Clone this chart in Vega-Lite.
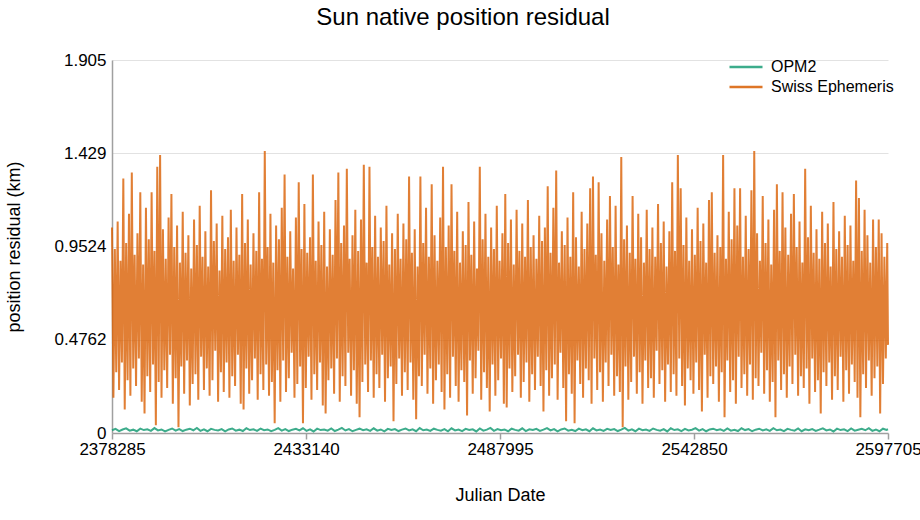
{
  "$schema": "https://vega.github.io/schema/vega-lite/v6.json",
  "width": 776,
  "height": 373,
  "autosize": {"type": "none"},
  "padding": {"left": 112, "top": 60, "right": 32, "bottom": 87},
  "background": "white",
  "title": {
    "text": "Sun native position residual",
    "fontSize": 24,
    "fontWeight": "normal",
    "color": "black",
    "anchor": "middle",
    "frame": "bounds",
    "offset": 21
  },
  "config": {
    "font": "Liberation Sans",
    "view": {"stroke": null}
  },
  "datasets": {
    "swiss": [
      {"d":2378285,"v":1.05},{"d":2378685,"v":0.18},{"d":2379085,"v":0.94},{"d":2379485,"v":0.31},{"d":2379885,"v":1.08},{"d":2380285,"v":0.22},{"d":2380685,"v":0.88},{"d":2381085,"v":0.36},{"d":2381485,"v":1.30},{"d":2381885,"v":0.12},
      {"d":2382285,"v":0.97},{"d":2382685,"v":0.27},{"d":2383085,"v":1.12},{"d":2383485,"v":0.19},{"d":2383885,"v":1.33},{"d":2384285,"v":0.33},{"d":2384685,"v":0.91},{"d":2385085,"v":0.24},{"d":2385485,"v":1.02},{"d":2385885,"v":0.38},
      {"d":2386285,"v":1.23},{"d":2386685,"v":0.16},{"d":2387085,"v":0.86},{"d":2387485,"v":0.10},{"d":2387885,"v":1.15},{"d":2388285,"v":0.29},{"d":2388685,"v":0.99},{"d":2389085,"v":0.21},{"d":2389485,"v":1.23},{"d":2389885,"v":0.35},
      {"d":2390285,"v":0.93},{"d":2390685,"v":0.04},{"d":2391085,"v":1.36},{"d":2391485,"v":0.26},{"d":2391885,"v":1.42},{"d":2392285,"v":0.18},{"d":2392685,"v":1.04},{"d":2393085,"v":0.32},{"d":2393485,"v":0.89},{"d":2393885,"v":0.23},
      {"d":2394285,"v":1.10},{"d":2394685,"v":0.40},{"d":2395085,"v":1.22},{"d":2395485,"v":0.15},{"d":2395885,"v":0.95},{"d":2396285,"v":0.28},{"d":2396685,"v":1.06},{"d":2397085,"v":0.03},{"d":2397485,"v":0.87},{"d":2397885,"v":0.34},
      {"d":2398285,"v":1.13},{"d":2398685,"v":0.20},{"d":2399085,"v":0.92},{"d":2399485,"v":0.37},{"d":2399885,"v":1.01},{"d":2400285,"v":0.14},{"d":2400685,"v":0.84},{"d":2401085,"v":0.25},{"d":2401485,"v":1.09},{"d":2401885,"v":0.30},
      {"d":2402285,"v":0.96},{"d":2402685,"v":0.17},{"d":2403085,"v":1.16},{"d":2403485,"v":0.39},{"d":2403885,"v":0.90},{"d":2404285,"v":0.22},{"d":2404685,"v":1.03},{"d":2405085,"v":0.33},{"d":2405485,"v":0.85},{"d":2405885,"v":0.19},
      {"d":2406285,"v":1.24},{"d":2406685,"v":0.27},{"d":2407085,"v":0.98},{"d":2407485,"v":0.42},{"d":2407885,"v":1.07},{"d":2408285,"v":0.16},{"d":2408685,"v":0.83},{"d":2409085,"v":0.31},{"d":2409485,"v":1.11},{"d":2409885,"v":0.21},
      {"d":2410285,"v":0.94},{"d":2410685,"v":0.36},{"d":2411085,"v":1.00},{"d":2411485,"v":0.18},{"d":2411885,"v":1.14},{"d":2412285,"v":0.29},{"d":2412685,"v":0.88},{"d":2413085,"v":0.24},{"d":2413485,"v":1.05},{"d":2413885,"v":0.40},
      {"d":2414285,"v":0.91},{"d":2414685,"v":0.15},{"d":2415085,"v":1.22},{"d":2415485,"v":0.12},{"d":2415885,"v":0.97},{"d":2416285,"v":0.33},{"d":2416685,"v":1.09},{"d":2417085,"v":0.20},{"d":2417485,"v":0.86},{"d":2417885,"v":0.27},
      {"d":2418285,"v":1.02},{"d":2418685,"v":0.38},{"d":2419085,"v":0.93},{"d":2419485,"v":0.17},{"d":2419885,"v":1.23},{"d":2420285,"v":0.30},{"d":2420685,"v":0.89},{"d":2421085,"v":0.22},{"d":2421485,"v":1.44},{"d":2421885,"v":0.35},
      {"d":2422285,"v":0.95},{"d":2422685,"v":0.19},{"d":2423085,"v":1.12},{"d":2423485,"v":0.26},{"d":2423885,"v":0.87},{"d":2424285,"v":0.05},{"d":2424685,"v":1.06},{"d":2425085,"v":0.32},{"d":2425485,"v":0.99},{"d":2425885,"v":0.16},
      {"d":2426285,"v":1.15},{"d":2426685,"v":0.37},{"d":2427085,"v":1.32},{"d":2427485,"v":0.21},{"d":2427885,"v":0.90},{"d":2428285,"v":0.28},{"d":2428685,"v":1.03},{"d":2429085,"v":0.41},{"d":2429485,"v":0.84},{"d":2429885,"v":0.18},
      {"d":2430285,"v":1.10},{"d":2430685,"v":0.25},{"d":2431085,"v":1.28},{"d":2431485,"v":0.34},{"d":2431885,"v":0.94},{"d":2432285,"v":0.05},{"d":2432685,"v":1.17},{"d":2433085,"v":0.23},{"d":2433485,"v":0.92},{"d":2433885,"v":0.39},
      {"d":2434285,"v":1.00},{"d":2434685,"v":0.17},{"d":2435085,"v":1.32},{"d":2435485,"v":0.30},{"d":2435885,"v":0.88},{"d":2436285,"v":0.22},{"d":2436685,"v":1.08},{"d":2437085,"v":0.36},{"d":2437485,"v":0.96},{"d":2437885,"v":0.14},
      {"d":2438285,"v":1.13},{"d":2438685,"v":0.10},{"d":2439085,"v":0.85},{"d":2439485,"v":0.27},{"d":2439885,"v":1.04},{"d":2440285,"v":0.33},{"d":2440685,"v":0.91},{"d":2441085,"v":0.20},{"d":2441485,"v":1.19},{"d":2441885,"v":0.38},
      {"d":2442285,"v":1.33},{"d":2442685,"v":0.16},{"d":2443085,"v":0.97},{"d":2443485,"v":0.29},{"d":2443885,"v":1.06},{"d":2444285,"v":0.24},{"d":2444685,"v":1.35},{"d":2445085,"v":0.41},{"d":2445485,"v":0.89},{"d":2445885,"v":0.19},
      {"d":2446285,"v":1.01},{"d":2446685,"v":0.32},{"d":2447085,"v":1.14},{"d":2447485,"v":0.15},{"d":2447885,"v":0.93},{"d":2448285,"v":0.08},{"d":2448685,"v":1.09},{"d":2449085,"v":0.26},{"d":2449485,"v":1.37},{"d":2449885,"v":0.35},
      {"d":2450285,"v":0.87},{"d":2450685,"v":0.21},{"d":2451085,"v":1.36},{"d":2451485,"v":0.37},{"d":2451885,"v":0.95},{"d":2452285,"v":0.18},{"d":2452685,"v":1.11},{"d":2453085,"v":0.30},{"d":2453485,"v":0.90},{"d":2453885,"v":0.23},
      {"d":2454285,"v":1.05},{"d":2454685,"v":0.40},{"d":2455085,"v":0.98},{"d":2455485,"v":0.16},{"d":2455885,"v":1.16},{"d":2456285,"v":0.28},{"d":2456685,"v":0.86},{"d":2457085,"v":0.34},{"d":2457485,"v":1.02},{"d":2457885,"v":0.06},
      {"d":2458285,"v":0.94},{"d":2458685,"v":0.25},{"d":2459085,"v":1.12},{"d":2459485,"v":0.38},{"d":2459885,"v":0.89},{"d":2460285,"v":0.19},{"d":2460685,"v":1.07},{"d":2461085,"v":0.31},{"d":2461485,"v":0.99},{"d":2461885,"v":0.22},
      {"d":2462285,"v":1.31},{"d":2462685,"v":0.36},{"d":2463085,"v":0.92},{"d":2463485,"v":0.17},{"d":2463885,"v":1.04},{"d":2464285,"v":0.07},{"d":2464685,"v":0.85},{"d":2465085,"v":0.29},{"d":2465485,"v":1.31},{"d":2465885,"v":0.24},
      {"d":2466285,"v":0.97},{"d":2466685,"v":0.40},{"d":2467085,"v":1.15},{"d":2467485,"v":0.20},{"d":2467885,"v":0.90},{"d":2468285,"v":0.33},{"d":2468685,"v":1.27},{"d":2469085,"v":0.15},{"d":2469485,"v":1.01},{"d":2469885,"v":0.27},
      {"d":2470285,"v":0.88},{"d":2470685,"v":0.35},{"d":2471085,"v":1.10},{"d":2471485,"v":0.21},{"d":2471885,"v":1.36},{"d":2472285,"v":0.12},{"d":2472685,"v":0.95},{"d":2473085,"v":0.30},{"d":2473485,"v":1.06},{"d":2473885,"v":0.18},
      {"d":2474285,"v":1.27},{"d":2474685,"v":0.39},{"d":2475085,"v":0.93},{"d":2475485,"v":0.24},{"d":2475885,"v":1.13},{"d":2476285,"v":0.16},{"d":2476685,"v":0.87},{"d":2477085,"v":0.32},{"d":2477485,"v":1.03},{"d":2477885,"v":0.26},
      {"d":2478285,"v":0.96},{"d":2478685,"v":0.09},{"d":2479085,"v":1.18},{"d":2479485,"v":0.37},{"d":2479885,"v":0.91},{"d":2480285,"v":0.20},{"d":2480685,"v":1.08},{"d":2481085,"v":0.28},{"d":2481485,"v":0.84},{"d":2481885,"v":0.42},
      {"d":2482285,"v":1.36},{"d":2482685,"v":0.17},{"d":2483085,"v":0.99},{"d":2483485,"v":0.31},{"d":2483885,"v":1.12},{"d":2484285,"v":0.23},{"d":2484685,"v":0.90},{"d":2485085,"v":0.11},{"d":2485485,"v":1.05},{"d":2485885,"v":0.35},
      {"d":2486285,"v":0.94},{"d":2486685,"v":0.19},{"d":2487085,"v":1.16},{"d":2487485,"v":0.27},{"d":2487885,"v":0.88},{"d":2488285,"v":0.38},{"d":2488685,"v":1.02},{"d":2489085,"v":0.15},{"d":2489485,"v":1.22},{"d":2489885,"v":0.13},
      {"d":2490285,"v":0.97},{"d":2490685,"v":0.33},{"d":2491085,"v":1.09},{"d":2491485,"v":0.21},{"d":2491885,"v":0.86},{"d":2492285,"v":0.29},{"d":2492685,"v":1.14},{"d":2493085,"v":0.40},{"d":2493485,"v":0.93},{"d":2493885,"v":0.18},
      {"d":2494285,"v":1.07},{"d":2494685,"v":0.26},{"d":2495085,"v":0.90},{"d":2495485,"v":0.36},{"d":2495885,"v":1.19},{"d":2496285,"v":0.16},{"d":2496685,"v":0.95},{"d":2497085,"v":0.30},{"d":2497485,"v":1.01},{"d":2497885,"v":0.22},
      {"d":2498285,"v":0.89},{"d":2498685,"v":0.39},{"d":2499085,"v":1.11},{"d":2499485,"v":0.24},{"d":2499885,"v":0.98},{"d":2500285,"v":0.11},{"d":2500685,"v":1.05},{"d":2501085,"v":0.32},{"d":2501485,"v":1.26},{"d":2501885,"v":0.19},
      {"d":2502285,"v":0.92},{"d":2502685,"v":0.28},{"d":2503085,"v":1.15},{"d":2503485,"v":0.35},{"d":2503885,"v":1.34},{"d":2504285,"v":0.17},{"d":2504685,"v":0.87},{"d":2505085,"v":0.41},{"d":2505485,"v":1.03},{"d":2505885,"v":0.23},
      {"d":2506285,"v":0.96},{"d":2506685,"v":0.06},{"d":2507085,"v":1.10},{"d":2507485,"v":0.30},{"d":2507885,"v":0.90},{"d":2508285,"v":0.20},{"d":2508685,"v":1.23},{"d":2509085,"v":0.05},{"d":2509485,"v":1.00},{"d":2509885,"v":0.37},
      {"d":2510285,"v":0.85},{"d":2510685,"v":0.25},{"d":2511085,"v":1.13},{"d":2511485,"v":0.18},{"d":2511885,"v":0.94},{"d":2512285,"v":0.33},{"d":2512685,"v":1.07},{"d":2513085,"v":0.27},{"d":2513485,"v":1.25},{"d":2513885,"v":0.15},
      {"d":2514285,"v":1.31},{"d":2514685,"v":0.38},{"d":2515085,"v":0.91},{"d":2515485,"v":0.22},{"d":2515885,"v":1.28},{"d":2516285,"v":0.31},{"d":2516685,"v":1.02},{"d":2517085,"v":0.16},{"d":2517485,"v":0.88},{"d":2517885,"v":0.36},
      {"d":2518285,"v":1.09},{"d":2518685,"v":0.24},{"d":2519085,"v":1.21},{"d":2519485,"v":0.40},{"d":2519885,"v":0.95},{"d":2520285,"v":0.19},{"d":2520685,"v":1.16},{"d":2521085,"v":0.29},{"d":2521485,"v":0.86},{"d":2521885,"v":0.21},
      {"d":2522285,"v":1.41},{"d":2522685,"v":0.03},{"d":2523085,"v":0.99},{"d":2523485,"v":0.34},{"d":2523885,"v":1.06},{"d":2524285,"v":0.17},{"d":2524685,"v":0.92},{"d":2525085,"v":0.26},{"d":2525485,"v":1.21},{"d":2525885,"v":0.39},
      {"d":2526285,"v":0.89},{"d":2526685,"v":0.20},{"d":2527085,"v":1.12},{"d":2527485,"v":0.31},{"d":2527885,"v":1.00},{"d":2528285,"v":0.15},{"d":2528685,"v":0.87},{"d":2529085,"v":0.37},{"d":2529485,"v":1.14},{"d":2529885,"v":0.23},
      {"d":2530285,"v":0.94},{"d":2530685,"v":0.28},{"d":2531085,"v":1.05},{"d":2531485,"v":0.18},{"d":2531885,"v":0.90},{"d":2532285,"v":0.42},{"d":2532685,"v":1.17},{"d":2533085,"v":0.25},{"d":2533485,"v":0.97},{"d":2533885,"v":0.32},
      {"d":2534285,"v":1.08},{"d":2534685,"v":0.16},{"d":2535085,"v":0.85},{"d":2535485,"v":0.35},{"d":2535885,"v":1.03},{"d":2536285,"v":0.21},{"d":2536685,"v":1.28},{"d":2537085,"v":0.30},{"d":2537485,"v":0.93},{"d":2537885,"v":0.19},
      {"d":2538285,"v":1.42},{"d":2538685,"v":0.38},{"d":2539085,"v":1.25},{"d":2539485,"v":0.24},{"d":2539885,"v":0.96},{"d":2540285,"v":0.14},{"d":2540685,"v":1.10},{"d":2541085,"v":0.33},{"d":2541485,"v":0.88},{"d":2541885,"v":0.27},
      {"d":2542285,"v":1.04},{"d":2542685,"v":0.20},{"d":2543085,"v":0.91},{"d":2543485,"v":0.36},{"d":2543885,"v":1.15},{"d":2544285,"v":0.22},{"d":2544685,"v":0.98},{"d":2545085,"v":0.11},{"d":2545485,"v":1.07},{"d":2545885,"v":0.40},
      {"d":2546285,"v":0.87},{"d":2546685,"v":0.18},{"d":2547085,"v":1.19},{"d":2547485,"v":0.29},{"d":2547885,"v":1.23},{"d":2548285,"v":0.25},{"d":2548685,"v":0.92},{"d":2549085,"v":0.34},{"d":2549485,"v":1.01},{"d":2549885,"v":0.16},
      {"d":2550285,"v":0.95},{"d":2550685,"v":0.31},{"d":2551085,"v":1.42},{"d":2551485,"v":0.08},{"d":2551885,"v":0.89},{"d":2552285,"v":0.37},{"d":2552685,"v":1.13},{"d":2553085,"v":0.21},{"d":2553485,"v":0.99},{"d":2553885,"v":0.27},
      {"d":2554285,"v":1.25},{"d":2554685,"v":0.15},{"d":2555085,"v":1.06},{"d":2555485,"v":0.39},{"d":2555885,"v":1.25},{"d":2556285,"v":0.23},{"d":2556685,"v":0.90},{"d":2557085,"v":0.30},{"d":2557485,"v":1.11},{"d":2557885,"v":0.19},
      {"d":2558285,"v":0.94},{"d":2558685,"v":0.35},{"d":2559085,"v":1.24},{"d":2559485,"v":0.17},{"d":2559885,"v":1.44},{"d":2560285,"v":0.28},{"d":2560685,"v":1.02},{"d":2561085,"v":0.24},{"d":2561485,"v":0.88},{"d":2561885,"v":0.41},
      {"d":2562285,"v":1.21},{"d":2562685,"v":0.20},{"d":2563085,"v":0.97},{"d":2563485,"v":0.32},{"d":2563885,"v":1.09},{"d":2564285,"v":0.16},{"d":2564685,"v":0.86},{"d":2565085,"v":0.26},{"d":2565485,"v":1.14},{"d":2565885,"v":0.08},
      {"d":2566285,"v":1.27},{"d":2566685,"v":0.37},{"d":2567085,"v":0.93},{"d":2567485,"v":0.22},{"d":2567885,"v":1.23},{"d":2568285,"v":0.30},{"d":2568685,"v":1.05},{"d":2569085,"v":0.18},{"d":2569485,"v":0.91},{"d":2569885,"v":0.34},
      {"d":2570285,"v":1.12},{"d":2570685,"v":0.25},{"d":2571085,"v":1.22},{"d":2571485,"v":0.40},{"d":2571885,"v":0.95},{"d":2572285,"v":0.19},{"d":2572685,"v":1.08},{"d":2573085,"v":0.29},{"d":2573485,"v":0.87},{"d":2573885,"v":0.23},
      {"d":2574285,"v":1.35},{"d":2574685,"v":0.33},{"d":2575085,"v":1.00},{"d":2575485,"v":0.15},{"d":2575885,"v":1.16},{"d":2576285,"v":0.38},{"d":2576685,"v":0.92},{"d":2577085,"v":0.21},{"d":2577485,"v":1.04},{"d":2577885,"v":0.27},
      {"d":2578285,"v":0.89},{"d":2578685,"v":0.10},{"d":2579085,"v":1.13},{"d":2579485,"v":0.31},{"d":2579885,"v":0.97},{"d":2580285,"v":0.24},{"d":2580685,"v":1.07},{"d":2581085,"v":0.36},{"d":2581485,"v":0.85},{"d":2581885,"v":0.17},
      {"d":2582285,"v":1.18},{"d":2582685,"v":0.29},{"d":2583085,"v":0.94},{"d":2583485,"v":0.22},{"d":2583885,"v":1.03},{"d":2584285,"v":0.39},{"d":2584685,"v":0.90},{"d":2585085,"v":0.16},{"d":2585485,"v":1.11},{"d":2585885,"v":0.32},
      {"d":2586285,"v":0.96},{"d":2586685,"v":0.20},{"d":2587085,"v":1.06},{"d":2587485,"v":0.35},{"d":2587885,"v":0.88},{"d":2588285,"v":0.26},{"d":2588685,"v":1.29},{"d":2589085,"v":0.18},{"d":2589485,"v":1.20},{"d":2589885,"v":0.08},
      {"d":2590285,"v":0.93},{"d":2590685,"v":0.30},{"d":2591085,"v":1.14},{"d":2591485,"v":0.23},{"d":2591885,"v":1.01},{"d":2592285,"v":0.37},{"d":2592685,"v":0.87},{"d":2593085,"v":0.19},{"d":2593485,"v":1.09},{"d":2593885,"v":0.28},
      {"d":2594285,"v":0.95},{"d":2594685,"v":0.34},{"d":2595085,"v":1.09},{"d":2595485,"v":0.10},{"d":2595885,"v":1.02},{"d":2596285,"v":0.25},{"d":2596685,"v":0.90},{"d":2597085,"v":0.38},{"d":2597485,"v":0.97},{"d":2597705,"v":0.45}
    ],
    "opm2": [
      {"d":2378285,"v":0.014},{"d":2379285,"v":0.021},{"d":2380285,"v":0.010},{"d":2381285,"v":0.018},{"d":2382285,"v":0.024},{"d":2383285,"v":0.012},{"d":2384285,"v":0.017},{"d":2385285,"v":0.009},{"d":2386285,"v":0.022},{"d":2387285,"v":0.015},
      {"d":2388285,"v":0.019},{"d":2389285,"v":0.011},{"d":2390285,"v":0.025},{"d":2391285,"v":0.013},{"d":2392285,"v":0.018},{"d":2393285,"v":0.008},{"d":2394285,"v":0.016},{"d":2395285,"v":0.023},{"d":2396285,"v":0.012},{"d":2397285,"v":0.020},
      {"d":2398285,"v":0.010},{"d":2399285,"v":0.017},{"d":2400285,"v":0.022},{"d":2401285,"v":0.014},{"d":2402285,"v":0.026},{"d":2403285,"v":0.011},{"d":2404285,"v":0.019},{"d":2405285,"v":0.009},{"d":2406285,"v":0.021},{"d":2407285,"v":0.016},
      {"d":2408285,"v":0.013},{"d":2409285,"v":0.020},{"d":2410285,"v":0.008},{"d":2411285,"v":0.018},{"d":2412285,"v":0.023},{"d":2413285,"v":0.012},{"d":2414285,"v":0.017},{"d":2415285,"v":0.010},{"d":2416285,"v":0.024},{"d":2417285,"v":0.015},
      {"d":2418285,"v":0.019},{"d":2419285,"v":0.011},{"d":2420285,"v":0.022},{"d":2421285,"v":0.014},{"d":2422285,"v":0.018},{"d":2423285,"v":0.009},{"d":2424285,"v":0.016},{"d":2425285,"v":0.025},{"d":2426285,"v":0.012},{"d":2427285,"v":0.020},
      {"d":2428285,"v":0.010},{"d":2429285,"v":0.017},{"d":2430285,"v":0.021},{"d":2431285,"v":0.013},{"d":2432285,"v":0.024},{"d":2433285,"v":0.011},{"d":2434285,"v":0.019},{"d":2435285,"v":0.008},{"d":2436285,"v":0.022},{"d":2437285,"v":0.015},
      {"d":2438285,"v":0.018},{"d":2439285,"v":0.012},{"d":2440285,"v":0.023},{"d":2441285,"v":0.010},{"d":2442285,"v":0.017},{"d":2443285,"v":0.026},{"d":2444285,"v":0.013},{"d":2445285,"v":0.020},{"d":2446285,"v":0.009},{"d":2447285,"v":0.016},
      {"d":2448285,"v":0.022},{"d":2449285,"v":0.014},{"d":2450285,"v":0.019},{"d":2451285,"v":0.011},{"d":2452285,"v":0.024},{"d":2453285,"v":0.012},{"d":2454285,"v":0.018},{"d":2455285,"v":0.008},{"d":2456285,"v":0.021},{"d":2457285,"v":0.015},
      {"d":2458285,"v":0.020},{"d":2459285,"v":0.010},{"d":2460285,"v":0.017},{"d":2461285,"v":0.023},{"d":2462285,"v":0.013},{"d":2463285,"v":0.019},{"d":2464285,"v":0.009},{"d":2465285,"v":0.025},{"d":2466285,"v":0.014},{"d":2467285,"v":0.018},
      {"d":2468285,"v":0.011},{"d":2469285,"v":0.022},{"d":2470285,"v":0.016},{"d":2471285,"v":0.012},{"d":2472285,"v":0.020},{"d":2473285,"v":0.009},{"d":2474285,"v":0.024},{"d":2475285,"v":0.013},{"d":2476285,"v":0.018},{"d":2477285,"v":0.010},
      {"d":2478285,"v":0.021},{"d":2479285,"v":0.015},{"d":2480285,"v":0.019},{"d":2481285,"v":0.008},{"d":2482285,"v":0.023},{"d":2483285,"v":0.012},{"d":2484285,"v":0.017},{"d":2485285,"v":0.026},{"d":2486285,"v":0.011},{"d":2487285,"v":0.020},
      {"d":2488285,"v":0.014},{"d":2489285,"v":0.018},{"d":2490285,"v":0.009},{"d":2491285,"v":0.022},{"d":2492285,"v":0.016},{"d":2493285,"v":0.012},{"d":2494285,"v":0.024},{"d":2495285,"v":0.010},{"d":2496285,"v":0.019},{"d":2497285,"v":0.015},
      {"d":2498285,"v":0.021},{"d":2499285,"v":0.011},{"d":2500285,"v":0.017},{"d":2501285,"v":0.025},{"d":2502285,"v":0.013},{"d":2503285,"v":0.020},{"d":2504285,"v":0.008},{"d":2505285,"v":0.018},{"d":2506285,"v":0.023},{"d":2507285,"v":0.012},
      {"d":2508285,"v":0.016},{"d":2509285,"v":0.010},{"d":2510285,"v":0.022},{"d":2511285,"v":0.014},{"d":2512285,"v":0.019},{"d":2513285,"v":0.009},{"d":2514285,"v":0.024},{"d":2515285,"v":0.013},{"d":2516285,"v":0.018},{"d":2517285,"v":0.011},
      {"d":2518285,"v":0.021},{"d":2519285,"v":0.015},{"d":2520285,"v":0.020},{"d":2521285,"v":0.010},{"d":2522285,"v":0.017},{"d":2523285,"v":0.026},{"d":2524285,"v":0.012},{"d":2525285,"v":0.019},{"d":2526285,"v":0.009},{"d":2527285,"v":0.022},
      {"d":2528285,"v":0.014},{"d":2529285,"v":0.018},{"d":2530285,"v":0.011},{"d":2531285,"v":0.023},{"d":2532285,"v":0.016},{"d":2533285,"v":0.012},{"d":2534285,"v":0.020},{"d":2535285,"v":0.008},{"d":2536285,"v":0.024},{"d":2537285,"v":0.015},
      {"d":2538285,"v":0.019},{"d":2539285,"v":0.010},{"d":2540285,"v":0.021},{"d":2541285,"v":0.013},{"d":2542285,"v":0.017},{"d":2543285,"v":0.025},{"d":2544285,"v":0.012},{"d":2545285,"v":0.020},{"d":2546285,"v":0.009},{"d":2547285,"v":0.018},
      {"d":2548285,"v":0.022},{"d":2549285,"v":0.014},{"d":2550285,"v":0.019},{"d":2551285,"v":0.011},{"d":2552285,"v":0.023},{"d":2553285,"v":0.012},{"d":2554285,"v":0.016},{"d":2555285,"v":0.010},{"d":2556285,"v":0.024},{"d":2557285,"v":0.015},
      {"d":2558285,"v":0.020},{"d":2559285,"v":0.009},{"d":2560285,"v":0.017},{"d":2561285,"v":0.022},{"d":2562285,"v":0.013},{"d":2563285,"v":0.019},{"d":2564285,"v":0.011},{"d":2565285,"v":0.025},{"d":2566285,"v":0.014},{"d":2567285,"v":0.018},
      {"d":2568285,"v":0.010},{"d":2569285,"v":0.021},{"d":2570285,"v":0.016},{"d":2571285,"v":0.012},{"d":2572285,"v":0.023},{"d":2573285,"v":0.009},{"d":2574285,"v":0.019},{"d":2575285,"v":0.014},{"d":2576285,"v":0.020},{"d":2577285,"v":0.011},
      {"d":2578285,"v":0.017},{"d":2579285,"v":0.024},{"d":2580285,"v":0.013},{"d":2581285,"v":0.018},{"d":2582285,"v":0.008},{"d":2583285,"v":0.022},{"d":2584285,"v":0.015},{"d":2585285,"v":0.019},{"d":2586285,"v":0.010},{"d":2587285,"v":0.023},
      {"d":2588285,"v":0.012},{"d":2589285,"v":0.017},{"d":2590285,"v":0.021},{"d":2591285,"v":0.014},{"d":2592285,"v":0.025},{"d":2593285,"v":0.011},{"d":2594285,"v":0.018},{"d":2595285,"v":0.009},{"d":2596285,"v":0.022},{"d":2597285,"v":0.016},
      {"d":2597705,"v":0.019}
    ]
  },
  "encoding": {
    "x": {
      "field": "d",
      "type": "quantitative",
      "scale": {"domain": [2378285, 2597705], "nice": false, "zero": false},
      "axis": {
        "title": "Julian Date",
        "values": [2378285, 2433140, 2487995, 2542850, 2597705],
        "format": "d",
        "grid": false,
        "labelFlush": false,
        "labelOverlap": false,
        "domainColor": "#a0a0a0",
        "domainWidth": 1.5,
        "tickColor": "#a0a0a0",
        "tickSize": 6,
        "tickWidth": 1.5,
        "labelPadding": 2,
        "labelFontSize": 17,
        "labelColor": "black",
        "titleFontSize": 18,
        "titleFontWeight": "normal",
        "titleColor": "black",
        "titlePadding": 29
      }
    },
    "y": {
      "field": "v",
      "type": "quantitative",
      "scale": {"domain": [0, 1.9048], "nice": false},
      "axis": {
        "title": "position residual (km)",
        "values": [0, 0.4762, 0.9524, 1.4286, 1.9048],
        "format": ".4~r",
        "ticks": false,
        "grid": true,
        "gridColor": "#e2e2e2",
        "gridWidth": 1,
        "domainColor": "#a0a0a0",
        "domainWidth": 1.5,
        "labelPadding": 6,
        "labelFontSize": 17,
        "labelColor": "black",
        "titleFontSize": 18,
        "titleFontWeight": "normal",
        "titleColor": "black",
        "titlePadding": 31
      }
    },
    "color": {
      "scale": {"domain": ["OPM2", "Swiss Ephemeris"], "range": ["#1b9e77", "#d95f02"]},
      "legend": {
        "title": null,
        "orient": "none",
        "legendX": 616,
        "legendY": -3,
        "symbolType": "stroke",
        "symbolSize": 1089,
        "symbolStrokeWidth": 2.5,
        "symbolOpacity": 0.85,
        "clipHeight": 20,
        "rowPadding": 0,
        "labelOffset": 7,
        "labelFontSize": 16,
        "labelColor": "black",
        "labelLimit": 300
      }
    }
  },
  "layer": [
    {
      "data": {"name": "swiss"},
      "mark": {"type": "line", "strokeWidth": 2, "opacity": 0.8},
      "encoding": {"color": {"datum": "Swiss Ephemeris"}}
    },
    {
      "data": {"name": "opm2"},
      "mark": {"type": "line", "strokeWidth": 2, "opacity": 0.85},
      "encoding": {"color": {"datum": "OPM2"}}
    }
  ]
}
